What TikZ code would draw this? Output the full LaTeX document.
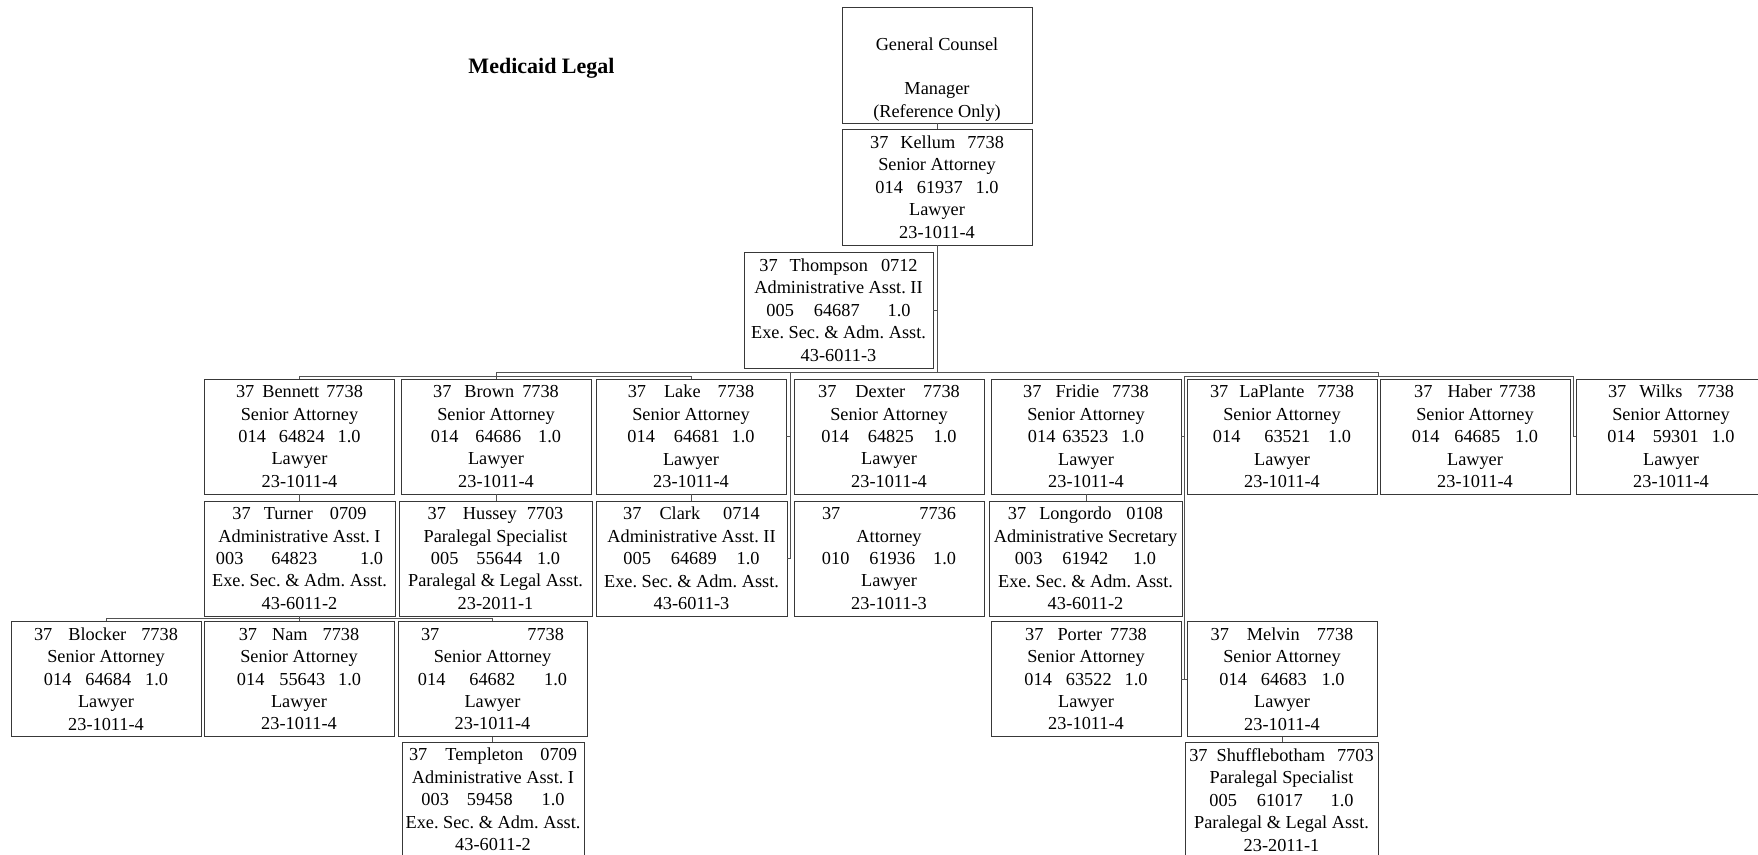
\documentclass[tikz,border=0pt]{standalone}
\usepackage{fontspec}
\setmainfont{Liberation Serif}
\usetikzlibrary{calc}
\newcommand\hg[1]{\hspace{#1pt}}
\begin{document}
\frenchspacing
\begin{tikzpicture}[x=1pt,y=-1pt,
  box/.style={draw=black!78, line width=0.95pt, fill=white,
    minimum width=190pt, minimum height=115pt, inner sep=0pt,
    align=center, font=\fontsize{18.3}{22.4}\selectfont},
  link/.style={draw=black!68, line width=0.95pt},
  heading/.style={font=\fontsize{22}{26}\selectfont\bfseries}]

\useasboundingbox (0,0) rectangle (1758,854);
\fill[white] (0,0) rectangle (1758,854);
\clip (0,0) rectangle (1758,854);

% heading
\node[heading] (title) at (541.5,68) {Medicaid Legal};

% top of the chart
\node[box, minimum height=116pt] (gc) at (937,65)
  {\rule{0pt}{15pt}\\General Counsel\\\vphantom{3}\\Manager\\\raisebox{0pt}[\height][0pt]{(Reference Only)}};
\node[box, minimum height=116pt] (kellum) at (937,187)
  {37\hg{12}Kellum\hg{12}7738\\Senior Attorney\\014\hg{14}61937\hg{13}1.0\\Lawyer\\23-1011-4};
\node[box, minimum width=189pt, minimum height=116pt] (thompson) at (838.5,310)
  {37\hg{12}Thompson\hg{13}0712\\Administrative Asst. II\\005\hg{20}64687\hg{28}1.0\\Exe. Sec. \& Adm. Asst.\\43-6011-3};

% first row
\node[box] (bennett) at (299.5,436.5)
  {37\hg{8}Bennett\hg{7}7738\\Senior Attorney\\014\hg{13}64824\hg{13}1.0\\Lawyer\\23-1011-4};
\node[box] (brown) at (496,436.5)
  {37\hg{13}Brown\hg{8}7738\\Senior Attorney\\014\hg{17}64686\hg{17}1.0\\Lawyer\\23-1011-4};
\node[box] (lake) at (691,436.5)
  {37\hg{18}Lake\hg{17}7738\\Senior Attorney\\014\hg{19}64681\hg{12}1.0\\Lawyer\\23-1011-4};
\node[box] (dexter) at (889,436.5)
  {37\hg{19}Dexter\hg{18}7738\\Senior Attorney\\014\hg{19}64825\hg{20}1.0\\Lawyer\\23-1011-4};
\node[box] (fridie) at (1086,436.5)
  {37\hg{14}Fridie\hg{13}7738\\Senior Attorney\\014\hg{7}63523\hg{13}1.0\\Lawyer\\23-1011-4};
\node[box] (laplante) at (1282,436.5)
  {37\hg{11}LaPlante\hg{13}7738\\Senior Attorney\\014\hg{24}63521\hg{18}1.0\\Lawyer\\23-1011-4};
\node[box] (haber) at (1475,436.5)
  {37\hg{15}Haber\hg{7}7738\\Senior Attorney\\014\hg{15}64685\hg{15}1.0\\Lawyer\\23-1011-4};
\node[box] (wilks) at (1671,436.5)
  {37\hg{13}Wilks\hg{15}7738\\Senior Attorney\\014\hg{18}59301\hg{13}1.0\\Lawyer\\23-1011-4};

% second row
\node[box, minimum width=191pt] (turner) at (299.5,558.5)
  {37\hg{13}Turner\hg{17}0709\\Administrative Asst. I\\003\hg{28}64823\hg{43}1.0\\Exe. Sec. \& Adm. Asst.\\43-6011-2};
\node[box, minimum width=193pt] (hussey) at (495.5,558.5)
  {37\hg{17}Hussey\hg{10}7703\\Paralegal Specialist\\005\hg{18}55644\hg{15}1.0\\Paralegal \& Legal Asst.\\23-2011-1};
\node[box, minimum width=191pt] (clark) at (691.5,558.5)
  {37\hg{18}Clark\hg{23}0714\\Administrative Asst. II\\005\hg{20}64689\hg{20}1.0\\Exe. Sec. \& Adm. Asst.\\43-6011-3};
\node[box] (dexterb) at (889,558.5)
  {37\hg{79}7736\\Attorney\\010\hg{20}61936\hg{18}1.0\\Lawyer\\23-1011-3};
\node[box, minimum width=193pt] (longordo) at (1085.5,558.5)
  {37\hg{13}Longordo\hg{15}0108\\Administrative Secretary\\003\hg{20}61942\hg{25}1.0\\Exe. Sec. \& Adm. Asst.\\43-6011-2};

% third row
\node[box] (blocker) at (106,679)
  {37\hg{16}Blocker\hg{15}7738\\Senior Attorney\\014\hg{14}64684\hg{14}1.0\\Lawyer\\23-1011-4};
\node[box] (nam) at (299,679)
  {37\hg{15}Nam\hg{15}7738\\Senior Attorney\\014\hg{15}55643\hg{13}1.0\\Lawyer\\23-1011-4};
\node[box, minimum width=189pt] (vacantb) at (492.5,679)
  {37\hg{88}7738\\Senior Attorney\\014\hg{24}64682\hg{29}1.0\\Lawyer\\23-1011-4};
\node[box] (porter) at (1086,679)
  {37\hg{14}Porter\hg{8}7738\\Senior Attorney\\014\hg{14}63522\hg{13}1.0\\Lawyer\\23-1011-4};
\node[box] (melvin) at (1282,679)
  {37\hg{18}Melvin\hg{17}7738\\Senior Attorney\\014\hg{14}64683\hg{15}1.0\\Lawyer\\23-1011-4};

% fourth row
\node[box, minimum width=182pt] (templeton) at (493,799.5)
  {37\hg{18}Templeton\hg{17}0709\\Administrative Asst. I\\003\hg{18}59458\hg{29}1.0\\Exe. Sec. \& Adm. Asst.\\43-6011-2};
\node[box, minimum width=193pt] (shuffle) at (1281.5,800)
  {37\hg{9}Shufflebotham\hg{12}7703\\Paralegal Specialist\\005\hg{20}61017\hg{28}1.0\\Paralegal \& Legal Asst.\\23-2011-1};

% bus levels and junction columns
\coordinate (busA) at (0,372);
\coordinate (busB) at (0,376);
\coordinate (busD) at (0,618);
\coordinate (aend) at ($(laplante.north east)!.5!(haber.north west)$);
\coordinate (vx) at ($(lake.east)!.5!(dexter.west)$);
\coordinate (cx) at ($(fridie.east)!.5!(laplante.west)$);
\coordinate (wx) at ($(haber.east)!.5!(wilks.west)$);

% connectors
\draw[link] (gc.south) -- (kellum.north);
\draw[link] (kellum.south) -- (kellum.south |- busA);
\draw[link] (thompson.east) -- (thompson.east -| kellum.south);
\draw[link] (brown.north) -- (brown.north |- busA) -- (aend |- busA) -- ($(aend |- busA)+(0,4)$);
\draw[link] (bennett.north) -- (bennett.north |- busB) -- (lake.north |- busB) -- (lake.north);
\draw[link] (vx |- busA) -- (vx |- clark.east);
\draw[link] (lake.east) -- (vx);
\draw[link] (clark.east) -- (clark.east -| vx);
\draw[link] (fridie.east) -- (cx);
\draw[link] (porter.east) -- (melvin.west);
\draw[link] (cx |- porter.east) -- (cx |- busB) -- (wx |- busB) -- (wx |- wilks.west) -- (wilks.west);
\draw[link] (bennett.south) -- (bennett.south |- turner.north);
\draw[link] (brown.south) -- (brown.south |- hussey.north);
\draw[link] (lake.south) -- (lake.south |- clark.north);
\draw[link] (fridie.south) -- (fridie.south |- longordo.north);
\draw[link] (turner.south) -- (turner.south |- nam.north);
\draw[link] (blocker.north) -- (blocker.north |- busD) -- (vacantb.north |- busD) -- (vacantb.north);
\draw[link] (vacantb.south) -- (vacantb.south |- templeton.north);
\draw[link] (melvin.south) -- (melvin.south |- shuffle.north);
\end{tikzpicture}
\end{document}
